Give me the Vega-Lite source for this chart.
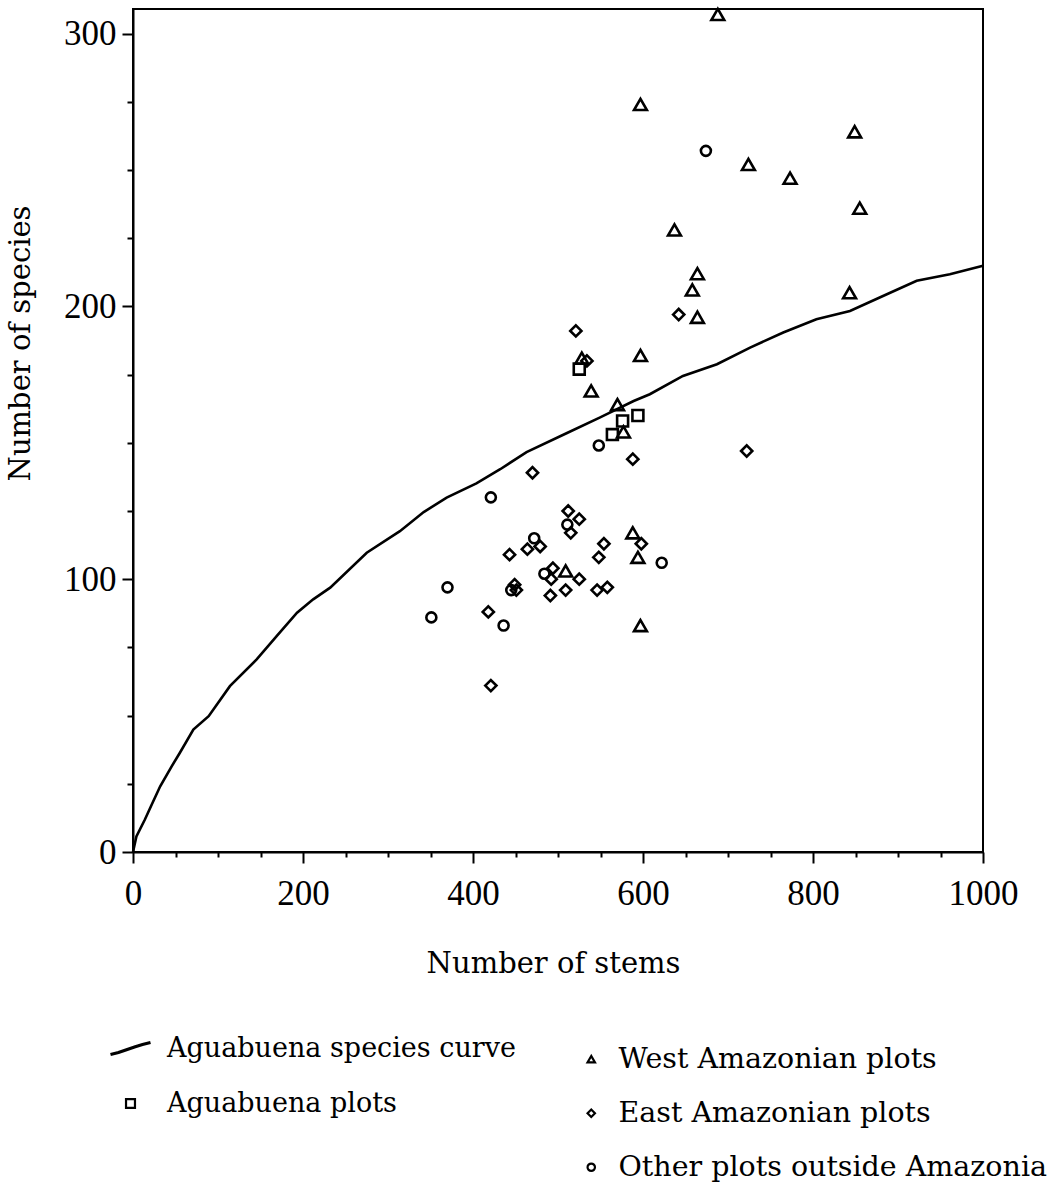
{
  "$schema": "https://vega.github.io/schema/vega-lite/v6.json",
  "autosize": {"type": "none"},
  "padding": {"left": 133, "top": 9, "right": 72, "bottom": 334},
  "width": 850,
  "height": 843,
  "background": "white",
  "config": {
    "view": {"stroke": "black", "strokeWidth": 2},
    "axis": {
      "domainColor": "black", "domainWidth": 2,
      "tickColor": "black", "tickWidth": 2,
      "labelFont": "Liberation Serif", "labelFontSize": 35, "labelColor": "black",
      "titleFont": "DejaVu Serif", "titleFontSize": 29, "titleFontWeight": "normal", "titleColor": "black",
      "grid": false, "labelOverlap": false, "labelFlush": false
    },
    "legend": {
      "labelFont": "DejaVu Serif", "labelFontSize": 27, "labelColor": "black",
      "labelLimit": 0, "title": null
    }
  },
  "datasets": {
    "curve": [
      {"stems": 0, "species": 0, "series": "Aguabuena species curve"},
      {"stems": 4, "species": 5.7, "series": "Aguabuena species curve"},
      {"stems": 14, "species": 11.9, "series": "Aguabuena species curve"},
      {"stems": 21, "species": 16.7, "series": "Aguabuena species curve"},
      {"stems": 32, "species": 24.1, "series": "Aguabuena species curve"},
      {"stems": 45.5, "species": 31.4, "series": "Aguabuena species curve"},
      {"stems": 55, "species": 36.3, "series": "Aguabuena species curve"},
      {"stems": 71, "species": 44.9, "series": "Aguabuena species curve"},
      {"stems": 89, "species": 49.8, "series": "Aguabuena species curve"},
      {"stems": 114, "species": 60.8, "series": "Aguabuena species curve"},
      {"stems": 145.5, "species": 70.6, "series": "Aguabuena species curve"},
      {"stems": 169, "species": 79.1, "series": "Aguabuena species curve"},
      {"stems": 193, "species": 87.7, "series": "Aguabuena species curve"},
      {"stems": 212, "species": 92.6, "series": "Aguabuena species curve"},
      {"stems": 232, "species": 96.9, "series": "Aguabuena species curve"},
      {"stems": 275, "species": 109.7, "series": "Aguabuena species curve"},
      {"stems": 314, "species": 117.6, "series": "Aguabuena species curve"},
      {"stems": 342, "species": 124.6, "series": "Aguabuena species curve"},
      {"stems": 369, "species": 129.9, "series": "Aguabuena species curve"},
      {"stems": 404, "species": 135.1, "series": "Aguabuena species curve"},
      {"stems": 432, "species": 140.3, "series": "Aguabuena species curve"},
      {"stems": 463, "species": 146.6, "series": "Aguabuena species curve"},
      {"stems": 510, "species": 153.5, "series": "Aguabuena species curve"},
      {"stems": 549, "species": 159.2, "series": "Aguabuena species curve"},
      {"stems": 589, "species": 165.3, "series": "Aguabuena species curve"},
      {"stems": 608, "species": 167.8, "series": "Aguabuena species curve"},
      {"stems": 647, "species": 174.5, "series": "Aguabuena species curve"},
      {"stems": 687, "species": 178.8, "series": "Aguabuena species curve"},
      {"stems": 726, "species": 184.9, "series": "Aguabuena species curve"},
      {"stems": 765, "species": 190.4, "series": "Aguabuena species curve"},
      {"stems": 804, "species": 195.3, "series": "Aguabuena species curve"},
      {"stems": 843.5, "species": 198.3, "series": "Aguabuena species curve"},
      {"stems": 883, "species": 203.9, "series": "Aguabuena species curve"},
      {"stems": 922, "species": 209.4, "series": "Aguabuena species curve"},
      {"stems": 961, "species": 211.8, "series": "Aguabuena species curve"},
      {"stems": 1000, "species": 214.9, "series": "Aguabuena species curve"}
    ],
    "plots": [
      {"stems": 688, "species": 307, "group": "West Amazonian plots"},
      {"stems": 597, "species": 274, "group": "West Amazonian plots"},
      {"stems": 849, "species": 264, "group": "West Amazonian plots"},
      {"stems": 724, "species": 252, "group": "West Amazonian plots"},
      {"stems": 773, "species": 247, "group": "West Amazonian plots"},
      {"stems": 855, "species": 236, "group": "West Amazonian plots"},
      {"stems": 637, "species": 228, "group": "West Amazonian plots"},
      {"stems": 664, "species": 212, "group": "West Amazonian plots"},
      {"stems": 658, "species": 206, "group": "West Amazonian plots"},
      {"stems": 843, "species": 205, "group": "West Amazonian plots"},
      {"stems": 664, "species": 196, "group": "West Amazonian plots"},
      {"stems": 597, "species": 182, "group": "West Amazonian plots"},
      {"stems": 570, "species": 164, "group": "West Amazonian plots"},
      {"stems": 528, "species": 181, "group": "West Amazonian plots"},
      {"stems": 539, "species": 169, "group": "West Amazonian plots"},
      {"stems": 577, "species": 154, "group": "West Amazonian plots"},
      {"stems": 509, "species": 103, "group": "West Amazonian plots"},
      {"stems": 588, "species": 117, "group": "West Amazonian plots"},
      {"stems": 594, "species": 108, "group": "West Amazonian plots"},
      {"stems": 597, "species": 83, "group": "West Amazonian plots"},
      {"stems": 525, "species": 177, "group": "Aguabuena plots"},
      {"stems": 594, "species": 160, "group": "Aguabuena plots"},
      {"stems": 576, "species": 158, "group": "Aguabuena plots"},
      {"stems": 564, "species": 153, "group": "Aguabuena plots"},
      {"stems": 521, "species": 191, "group": "East Amazonian plots"},
      {"stems": 642, "species": 197, "group": "East Amazonian plots"},
      {"stems": 534, "species": 180, "group": "East Amazonian plots"},
      {"stems": 588, "species": 144, "group": "East Amazonian plots"},
      {"stems": 470, "species": 139, "group": "East Amazonian plots"},
      {"stems": 722, "species": 147, "group": "East Amazonian plots"},
      {"stems": 512, "species": 125, "group": "East Amazonian plots"},
      {"stems": 525, "species": 122, "group": "East Amazonian plots"},
      {"stems": 515, "species": 117, "group": "East Amazonian plots"},
      {"stems": 443, "species": 109, "group": "East Amazonian plots"},
      {"stems": 464, "species": 111, "group": "East Amazonian plots"},
      {"stems": 479, "species": 112, "group": "East Amazonian plots"},
      {"stems": 554, "species": 113, "group": "East Amazonian plots"},
      {"stems": 598, "species": 113, "group": "East Amazonian plots"},
      {"stems": 548, "species": 108, "group": "East Amazonian plots"},
      {"stems": 494, "species": 104, "group": "East Amazonian plots"},
      {"stems": 492, "species": 100, "group": "East Amazonian plots"},
      {"stems": 525, "species": 100, "group": "East Amazonian plots"},
      {"stems": 449, "species": 98, "group": "East Amazonian plots"},
      {"stems": 451, "species": 96, "group": "East Amazonian plots"},
      {"stems": 491, "species": 94, "group": "East Amazonian plots"},
      {"stems": 509, "species": 96, "group": "East Amazonian plots"},
      {"stems": 546, "species": 96, "group": "East Amazonian plots"},
      {"stems": 558, "species": 97, "group": "East Amazonian plots"},
      {"stems": 418, "species": 88, "group": "East Amazonian plots"},
      {"stems": 421, "species": 61, "group": "East Amazonian plots"},
      {"stems": 674, "species": 257, "group": "Other plots outside Amazonia"},
      {"stems": 548, "species": 149, "group": "Other plots outside Amazonia"},
      {"stems": 421, "species": 130, "group": "Other plots outside Amazonia"},
      {"stems": 472, "species": 115, "group": "Other plots outside Amazonia"},
      {"stems": 511, "species": 120, "group": "Other plots outside Amazonia"},
      {"stems": 484, "species": 102, "group": "Other plots outside Amazonia"},
      {"stems": 622, "species": 106, "group": "Other plots outside Amazonia"},
      {"stems": 370, "species": 97, "group": "Other plots outside Amazonia"},
      {"stems": 445, "species": 96, "group": "Other plots outside Amazonia"},
      {"stems": 351, "species": 86, "group": "Other plots outside Amazonia"},
      {"stems": 436, "species": 83, "group": "Other plots outside Amazonia"}
    ]
  },
  "encoding": {
    "x": {
      "field": "stems", "type": "quantitative",
      "scale": {"domain": [0, 1000], "nice": false, "zero": false},
      "axis": {
        "title": "Number of stems",
        "values": [0, 50, 100, 150, 200, 250, 300, 350, 400, 450, 500, 550, 600, 650, 700, 750, 800, 850, 900, 950, 1000],
        "format": "d",
        "labelExpr": "datum.value % 200 === 0 ? datum.label : ''",
        "tickSize": {"condition": {"test": "datum.value % 200 === 0", "value": 11}, "value": 5},
        "labelPadding": 13,
        "titleX": 420, "titleY": 120, "titleBaseline": "alphabetic", "titleAlign": "center"
      }
    },
    "y": {
      "field": "species", "type": "quantitative",
      "scale": {"domain": [0, 309], "nice": false, "zero": false},
      "axis": {
        "title": "Number of species",
        "values": [0, 25, 50, 75, 100, 125, 150, 175, 200, 225, 250, 275, 300],
        "format": "d",
        "labelExpr": "datum.value % 100 === 0 ? datum.label : ''",
        "tickSize": {"condition": {"test": "datum.value % 100 === 0", "value": 11}, "value": 6},
        "labelPadding": 6,
        "titleX": -104, "titleY": 334, "titleAngle": -90, "titleBaseline": "alphabetic", "titleAlign": "center"
      }
    }
  },
  "layer": [
    {
      "data": {"name": "curve"},
      "mark": {"type": "line", "strokeWidth": 2.6, "interpolate": "linear"},
      "encoding": {
        "color": {
          "field": "series", "type": "nominal",
          "scale": {"domain": ["Aguabuena species curve", "Aguabuena plots"], "range": ["black", "black"]},
          "legend": {
            "orient": "none", "legendX": -16, "legendY": 1026,
            "symbolSize": 1600, "labelOffset": 23, "rowPadding": 27,
            "encode": {
              "symbols": {
                "update": {
                  "shape": {"signal": "datum.value === 'Aguabuena plots' ? 'square' : 'M-1,0.3L-0.6,0.2L-0.2,0.06L0.2,-0.08L0.6,-0.2L1,-0.3'"},
                  "size": {"signal": "datum.value === 'Aguabuena plots' ? 80 : 1600"},
                  "strokeWidth": {"signal": "datum.value === 'Aguabuena plots' ? 2.2 : 3.2"},
                  "stroke": {"value": "black"},
                  "fill": {"value": "transparent"}
                }
              }
            }
          }
        }
      }
    },
    {
      "data": {"name": "plots"},
      "transform": [{"filter": "datum.group === 'Aguabuena plots'"}],
      "mark": {"type": "point", "shape": "square", "filled": false, "size": 120, "strokeWidth": 2.6, "color": "black", "opacity": 1}
    },
    {
      "data": {"name": "plots"},
      "transform": [{"filter": "datum.group === 'West Amazonian plots'"}],
      "mark": {"type": "point", "filled": false, "size": 165, "strokeWidth": 2.6, "color": "black", "opacity": 1},
      "encoding": {
        "shape": {
          "field": "group", "type": "nominal",
          "scale": {"domain": ["West Amazonian plots", "East Amazonian plots", "Other plots outside Amazonia"], "range": ["triangle-up", "diamond", "circle"]},
          "legend": {
            "orient": "none", "legendX": 444, "legendY": 1036,
            "symbolSize": 55, "symbolStrokeWidth": 2.2, "symbolStrokeColor": "black", "symbolFillColor": "white",
            "labelOffset": 13, "labelFontSize": 28.5, "rowPadding": 25
          }
        }
      }
    },
    {
      "data": {"name": "plots"},
      "transform": [{"filter": "datum.group === 'East Amazonian plots'"}],
      "mark": {"type": "point", "filled": false, "size": 125, "strokeWidth": 2.6, "color": "black", "opacity": 1},
      "encoding": {
        "shape": {"field": "group", "type": "nominal"}
      }
    },
    {
      "data": {"name": "plots"},
      "transform": [{"filter": "datum.group === 'Other plots outside Amazonia'"}],
      "mark": {"type": "point", "filled": false, "size": 100, "strokeWidth": 2.6, "color": "black", "opacity": 1},
      "encoding": {
        "shape": {"field": "group", "type": "nominal"}
      }
    }
  ]
}
